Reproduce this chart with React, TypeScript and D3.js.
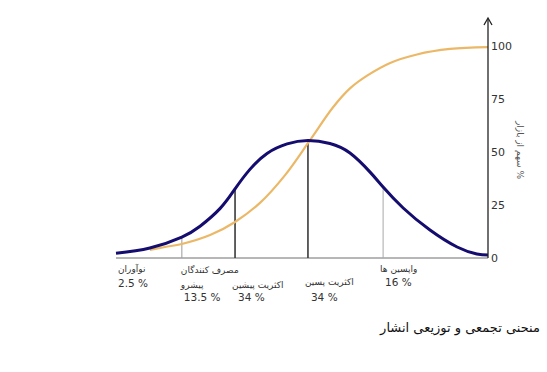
import React, { useEffect, useRef } from 'react';
import * as d3 from 'd3';

// bell curve (distribution), x in 0..100, value in %
const bellX = [0, 9.1, 17.7, 22.6, 28, 32, 36, 40.6, 46, 51.6, 57.5, 62.9, 68.3, 71.8, 77.2, 84.4, 91.7, 97, 100];
const bellY = [2.2, 4.7, 9.9, 15, 23.4, 32.6, 41.8, 49.3, 53.8, 55.4, 54, 49.5, 40.5, 33.5, 23.6, 13.2, 5.2, 1.9, 1.4];

// cumulative S curve
const sX = [9.1, 13.2, 17.7, 25.3, 32, 38.7, 45.4, 52.2, 58.3, 62.9, 67.5, 73.7, 80.9, 89.8, 100];
const sY = [3.8, 5.2, 6.6, 10.8, 17, 26, 39, 55.7, 71, 80, 86, 92, 96, 98.6, 99.5];

// segment boundaries (vertical lines) and their heights on the bell curve
const dividerX = [17.7, 32, 51.6, 71.8];
const dividerY = [9.9, 32.6, 55.4, 33.5];

const groupNames = [['نوآوران'], ['مصرف کنندگان', 'پیشرو'], ['اکثریت پیشین'], ['اکثریت پسین'], ['واپسین ها']];
const groupShares = ['2.5 %', '13.5 %', '34 %', '34 %', '16 %'];

const yTicks = [0, 25, 50, 75, 100];

const yTitle = '% سهم از بازار';
const caption = 'منحنی تجمعی و توزیعی انشار';

export default function App() {
  const ref = useRef<SVGSVGElement>(null);

  useEffect(() => {
    const svg = d3.select(ref.current);
    svg.selectAll('*').remove();

    const x = d3.scaleLinear().domain([0, 100]).range([116, 488]);
    const y = d3.scaleLinear().domain([0, 100]).range([258, 46]);
    const font = 'DejaVu Sans, sans-serif';

    // baseline
    svg.append('line')
      .attr('x1', x(0)).attr('x2', x(100))
      .attr('y1', y(0)).attr('y2', y(0))
      .attr('stroke', '#6e6e6e').attr('stroke-width', 1);

    // dividers
    const divColors = ['#9a9a9a', '#3a3a3a', '#3a3a3a', '#a8a8a8'];
    const divWidths = [1, 1.6, 1.6, 1];
    dividerX.forEach((dx, i) => {
      svg.append('line')
        .attr('x1', x(dx)).attr('x2', x(dx))
        .attr('y1', y(0)).attr('y2', y(dividerY[i]))
        .attr('stroke', divColors[i]).attr('stroke-width', divWidths[i]);
    });

    const line = d3.line<[number, number]>()
      .x(d => x(d[0]))
      .y(d => y(d[1]))
      .curve(d3.curveNatural);

    svg.append('path')
      .datum(sX.map((v, i) => [v, sY[i]] as [number, number]))
      .attr('d', line.curve(d3.curveCatmullRom.alpha(0.5)))
      .attr('fill', 'none')
      .attr('stroke', '#ebb867')
      .attr('stroke-width', 2.2);

    svg.append('path')
      .datum(bellX.map((v, i) => [v, bellY[i]] as [number, number]))
      .attr('d', line.curve(d3.curveNatural))
      .attr('fill', 'none')
      .attr('stroke', '#140c6e')
      .attr('stroke-width', 3);

    // y axis with arrow
    svg.append('line')
      .attr('x1', x(100)).attr('x2', x(100))
      .attr('y1', y(0)).attr('y2', 19)
      .attr('stroke', '#222').attr('stroke-width', 1.3);
    svg.append('path')
      .attr('d', `M${x(100) - 4},${25} L${x(100)},${18} L${x(100) + 4},${25}`)
      .attr('fill', 'none').attr('stroke', '#222').attr('stroke-width', 1.3);

    svg.selectAll('.ytick')
      .data(yTicks)
      .enter().append('text')
      .attr('class', 'ytick')
      .attr('x', x(100) + 3)
      .attr('y', d => y(d) + 4)
      .attr('font-family', font)
      .attr('font-size', 11)
      .attr('fill', '#333')
      .text(d => d);

    svg.append('text')
      .attr('transform', `translate(517,${y(50) - 2}) rotate(90)`)
      .attr('text-anchor', 'middle')
      .attr('direction', 'rtl')
      .attr('font-family', font)
      .attr('font-size', 9)
      .attr('fill', '#555')
      .text(yTitle);

    // group labels
    const starts = [0, 17.7, 32, 51.6, 71.8];
    const nameDx = [2, -1, -3, -3, -3];
    const nameDy = [14, 15, 30, 27, 14];
    const shareDx = [2, 2, 3, 3, 2];
    const shareDy = [29, 43, 43, 43, 28];
    groupNames.forEach((lines, i) => {
      lines.forEach((t, j) => {
        svg.append('text')
          .attr('x', x(starts[i]) + nameDx[i])
          .attr('y', y(0) + nameDy[i] + j * 15)
          .attr('font-family', font)
          .attr('font-size', 9)
          .attr('fill', '#333')
          .text(t);
      });
      svg.append('text')
        .attr('x', x(starts[i]) + shareDx[i])
        .attr('y', y(0) + shareDy[i])
        .attr('font-family', font)
        .attr('font-size', 10.5)
        .attr('fill', '#333')
        .text(groupShares[i]);
    });

    svg.append('text')
      .attr('x', 540)
      .attr('y', 332)
      .attr('text-anchor', 'end')
      .attr('font-family', font)
      .attr('font-size', 13)
      .attr('fill', '#111')
      .text(caption);
  }, []);

  return (
    <svg
      ref={ref}
      width={547}
      height={372}
      style={{ position: 'absolute', left: 0, top: 0, background: '#fff' }}
    />
  );
}
